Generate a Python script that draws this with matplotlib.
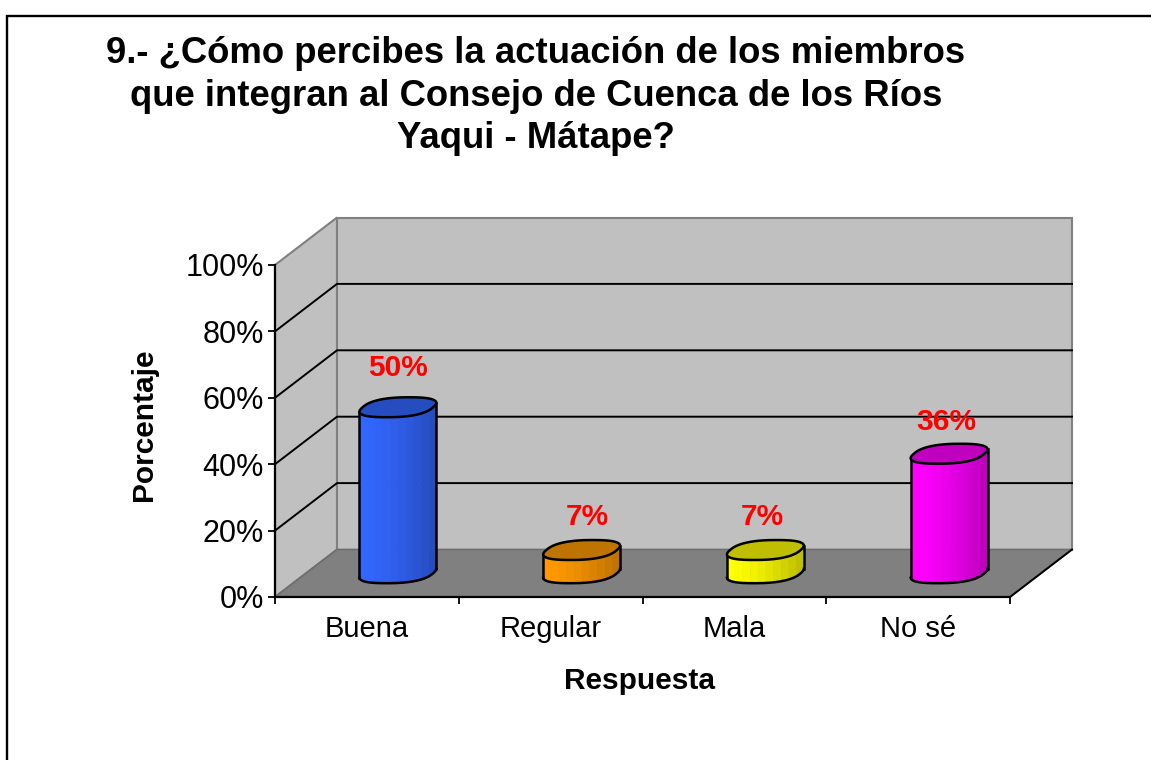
import numpy as np
import matplotlib
matplotlib.use('Agg')
import matplotlib.pyplot as plt
from matplotlib.patches import Rectangle

plt.rcParams['font.family'] = ['Liberation Sans', 'DejaVu Sans']

title = '9.- ¿Cómo percibes la actuación de los miembros\nque integran al Consejo de Cuenca de los Ríos\nYaqui - Mátape?'
categories = ['Buena', 'Regular', 'Mala', 'No sé']
values = [50, 7, 7, 36]
colors = ['#3366FF', '#FF9900', '#FFFF00', '#FF00FF']
y_ticks = [0, 20, 40, 60, 80, 100]
y_tick_labels = ['0%', '20%', '40%', '60%', '80%', '100%']

W, H = 1151, 760
# front plane of the 3d box, in pixels
left, right, bottom, top = 275, 1010, 597, 265
depth_px_x, depth_px_y = 62, 47.5
# nudges of the value labels, in pixels
label_dx = [0, 6, -3, -3]
label_dy = [39, 33, 33, 32]
# ----------------------------------------------------------------------------------------------------------------------
def shade(color, k):
    return tuple(c * k for c in matplotlib.colors.to_rgb(color))
# ----------------------------------------------------------------------------------------------------------------------
def outline(cx, cy, a, bx, by, n=721, p=0.8):
    # floor circle seen in oblique projection, slightly squared like the original
    t = np.linspace(0, 2 * np.pi, n)
    u = np.sign(np.cos(t)) * np.abs(np.cos(t)) ** p
    w = np.sign(np.sin(t)) * np.abs(np.sin(t)) ** p
    return cx + a * u + bx * w, cy + by * w, t
# ----------------------------------------------------------------------------------------------------------------------
def draw_bar(ax, x, v, color, dx, dy):
    a, bx, by = 0.192, 0.062, 3.0
    cx, y0 = x + 0.5 + dx / 2, dy / 2
    xs0, ys0, t = outline(cx, y0, a, bx, by)
    xs1, ys1, _ = outline(cx, y0 + v, a, bx, by)

    # front half of the base, between its left and right extremes
    i_min, i_max = np.argmin(xs0), np.argmax(xs0)
    idx = np.r_[i_min:len(t), 1:i_max + 1]
    grid = np.linspace(xs0[i_min], xs0[i_max], 200)
    low = np.interp(grid, xs0[idx], ys0[idx])
    high = low + v

    edges = np.linspace(grid[0], grid[-1], 11)
    for i in range(10):
        k = 1.0 - 0.25 * (i / 9) ** 1.4
        m = (grid >= edges[i] - 0.002) & (grid <= edges[i + 1] + 0.002)
        ax.fill_between(grid[m], low[m], high[m], color=shade(color, k), lw=0.3, zorder=3)
    ax.plot(grid, low, color='black', lw=1.8, zorder=4, clip_on=False)
    ax.plot([grid[0], grid[0]], [low[0], high[0]], color='black', lw=1.8, zorder=4)
    ax.plot([grid[-1], grid[-1]], [low[-1], high[-1]], color='black', lw=1.8, zorder=4)
    ax.fill(xs1, ys1, facecolor=shade(color, 0.75), edgecolor='black', lw=1.8, zorder=5)
# ----------------------------------------------------------------------------------------------------------------------
fig = plt.figure(figsize=(W / 100, H / 100), dpi=100, facecolor='white')
fig.add_artist(Rectangle((7.5 / W, -0.01), 1.1, 1.01 - 15.5 / H, transform=fig.transFigure, fill=False, edgecolor='black', lw=1.7))
fig.text(536 / W, 1 - 96 / H, title, ha='center', va='center', fontsize=26.3, fontweight='bold', linespacing=1.27)

ax = fig.add_axes([left / W, 1 - bottom / H, (right - left) / W, (bottom - top) / H])
ax.set_xlim(0, len(categories))
ax.set_ylim(0, 100)
ax.patch.set_visible(False)
px_x = (right - left) / len(categories)
px_y = (bottom - top) / 100
dx = depth_px_x / px_x
dy = depth_px_y / px_y
x_max = len(categories)

# walls and floor
ax.fill([0, dx, dx, 0], [0, dy, 100 + dy, 100], facecolor='#C0C0C0', edgecolor='#808080', lw=1.5, zorder=1, clip_on=False)
ax.fill([dx, x_max + dx, x_max + dx, dx], [dy, dy, 100 + dy, 100 + dy], facecolor='#C0C0C0', edgecolor='#808080', lw=1.5, zorder=1, clip_on=False)
ax.fill([0, dx, x_max + dx, x_max], [0, dy, dy, 0], facecolor='#808080', edgecolor='#6E6E6E', lw=1.2, zorder=1, clip_on=False)
ax.plot([x_max, x_max + dx], [0, dy], color='black', lw=1.4, zorder=2, clip_on=False)

# gridlines
for v in y_ticks[1:-1]:
    ax.plot([0, dx, x_max + dx], [v, v + dy, v + dy], color='black', lw=1.4, zorder=2, clip_on=False)

for i, (v, c) in enumerate(zip(values, colors)):
    draw_bar(ax, i, v, c, dx, dy)
    ax.text(i + 0.5 + dx / 2 + label_dx[i] / px_x, v + dy / 2 + label_dy[i] / px_y, f'{v}%', color='#FF0000',
            fontsize=21.5, fontweight='bold', ha='center', va='center', zorder=6)

for s in ['top', 'right']:
    ax.spines[s].set_visible(False)
for s in ['left', 'bottom']:
    ax.spines[s].set_linewidth(1.6)
    ax.spines[s].set_zorder(7)

ax.set_yticks(y_ticks)
ax.set_yticklabels(y_tick_labels, fontsize=22)
ax.set_xticks(range(len(categories) + 1))
ax.set_xticklabels([])
ax.set_xticks(np.arange(len(categories)) + 0.5, minor=True)
ax.set_xticklabels(categories, minor=True, fontsize=21)
ax.tick_params(axis='both', which='major', length=5, width=1.3, pad=3)
ax.tick_params(axis='x', which='minor', length=0, pad=13)

ax.set_ylabel('Porcentaje', fontsize=21.5, fontweight='bold')
ax.yaxis.set_label_coords((158 - left) / (right - left), (bottom - 425) / (bottom - top))
ax.set_xlabel('Respuesta', fontsize=21.5, fontweight='bold')
ax.xaxis.set_label_coords((640 - left) / (right - left), (bottom - 667) / (bottom - top))

plt.savefig('out.png', dpi=100, facecolor='white')
